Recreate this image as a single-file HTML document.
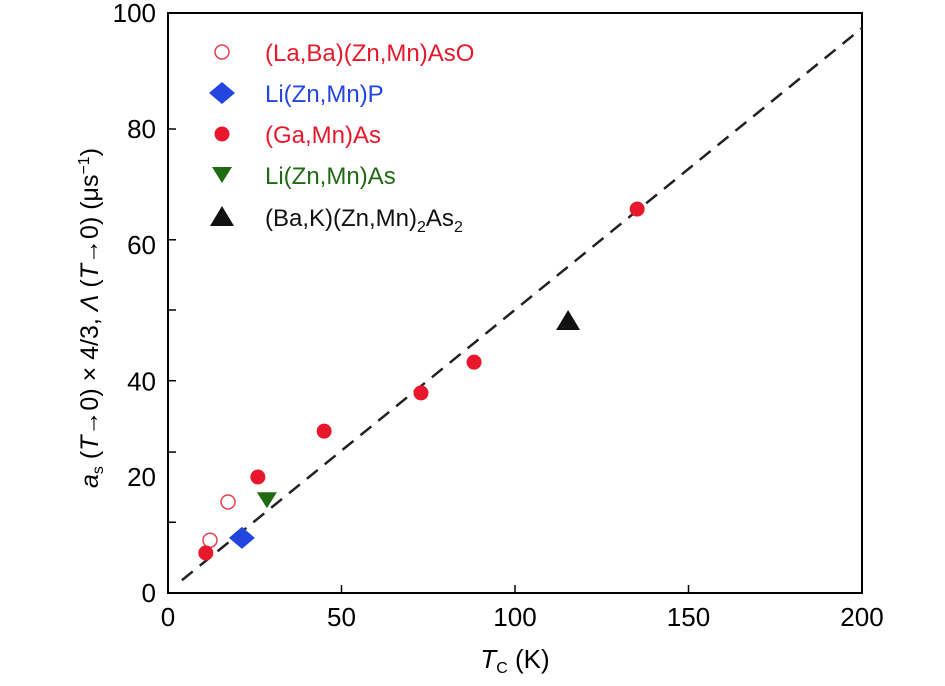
<!DOCTYPE html>
<html><head><meta charset="utf-8"><style>
body{margin:0;background:#fff;}
svg text{font-family:"Liberation Sans",sans-serif;}
</style></head><body>
<svg id="chart" width="945" height="681">
<g id="axes"></g>
<g id="marks"></g>
<g id="legend"></g>
<text x="515" y="668" font-size="26" text-anchor="middle"><tspan font-style="italic">T</tspan><tspan font-size="16" dy="5">C</tspan><tspan dy="-5"> (K)</tspan></text>
<text transform="translate(98,318) rotate(-90)" font-size="25" text-anchor="middle"><tspan font-style="italic">a</tspan><tspan font-size="16" dy="5">s</tspan><tspan dy="-5"> (</tspan><tspan font-style="italic">T</tspan>→0) × 4/3, <tspan font-style="italic">Λ</tspan> (<tspan font-style="italic">T</tspan>→0) (μs<tspan font-size="16" dy="-9">−1</tspan><tspan dy="9">)</tspan></text>
</svg>
<script>
const xTicks=[0,50,100,150,200];
const xTickLabels=["0","50","100","150","200"];
const yTickMarks=[80,60.9,48.8,36.6,24.3,12.2];
const yLabelPos=[100,80,60,36.5,20,0];
const yTickLabels=["100","80","60","40","20","0"];
const laBaX=[12.1,17.3], laBaY=[9.1,15.7];
const liPX=[21.3], liPY=[9.5];
const gaX=[10.9,25.9,45.0,72.9,88.2,135.2], gaY=[6.9,20.0,27.9,34.5,39.8,66.2];
const liAsX=[28.5], liAsY=[16.0];
const baKX=[115.3], baKY=[46.9];
const fitX=[4,200], fitY=[2.2,97.4];

const NS="http://www.w3.org/2000/svg";
const L=168,R=862,T=13,B=593;
const sx=v=>L+(v/200)*(R-L);
const sy=v=>B-(v/100)*(B-T);
function mk(tag,attrs,parent){const e=document.createElementNS(NS,tag);for(const k in attrs)e.setAttribute(k,attrs[k]);parent.appendChild(e);return e;}
const axes=document.getElementById('axes'),marks=document.getElementById('marks'),leg=document.getElementById('legend');
let fr=mk('rect',{x:L,y:T,width:R-L,height:B-T,fill:'none',stroke:'#000','stroke-width':2},axes);


xTicks.forEach((v,i)=>{
 let t=mk('line',{x1:sx(v),x2:sx(v),y1:B,y2:B-8,stroke:'#000','stroke-width':1.5},axes);
 
 
 let l=mk('text',{x:sx(v),y:B+33,'font-size':26,'text-anchor':'middle'},axes);l.textContent=xTickLabels[i];
 
 
});
yTickMarks.forEach(v=>{
 let t=mk('line',{x1:L,x2:L+8,y1:sy(v),y2:sy(v),stroke:'#000','stroke-width':1.5},axes);
 
 
});
yLabelPos.forEach((v,i)=>{
 let l=mk('text',{x:L-12,y:sy(v)+9,'font-size':26,'text-anchor':'end'},axes);l.textContent=yTickLabels[i];
 
 
});
let fl=mk('line',{x1:sx(fitX[0]),y1:sy(fitY[0]),x2:sx(fitX[1]),y2:sy(fitY[1]),stroke:'#222','stroke-width':2.5,'stroke-dasharray':'14,9'},marks);


function shape(kind,cx,cy,parent){
 let e;
 if(kind==='open')e=mk('circle',{cx,cy,r:7,fill:'#fff',stroke:'#e8404f','stroke-width':1.5},parent);
 else if(kind==='circle')e=mk('circle',{cx,cy,r:7.5,fill:'#e8182c'},parent);
 else if(kind==='diamond')e=mk('polygon',{points:`${cx-13},${cy} ${cx},${cy-11} ${cx+13},${cy} ${cx},${cy+11}`,fill:'#2446e0'},parent);
 else if(kind==='down')e=mk('polygon',{points:`${cx-10},${cy-8} ${cx+10},${cy-8} ${cx},${cy+8}`,fill:'#1f6a12'},parent);
 else e=mk('polygon',{points:`${cx-12},${cy+9} ${cx+12},${cy+9} ${cx},${cy-11}`,fill:'#111'},parent);
 return e;
}
const series=[['open',laBaX,laBaY,'la-ba-point'],['diamond',liPX,liPY,'li-zn-mn-p-point'],['circle',gaX,gaY,'ga-mn-as-point'],['down',liAsX,liAsY,'li-zn-mn-as-point'],['up',baKX,baKY,'ba-k-point']];
series.forEach(s=>{s[1].forEach((x,i)=>{let e=shape(s[0],sx(x),sy(s[2][i]),marks);
 
 });});
const legTexts=['(La,Ba)(Zn,Mn)AsO','Li(Zn,Mn)P','(Ga,Mn)As','Li(Zn,Mn)As',''];
const legColors=['#e8182c','#2446e0','#e8182c','#1f6a12','#111'];
const legNames=['legend-la-ba','legend-li-p','legend-ga-mn','legend-li-as','legend-ba-k'];
const legKinds=['open','diamond','circle','down','up'];
const legY=[52,93,134,175,217];
legKinds.forEach((k,i)=>{
 const g=mk('g',{},leg);
 
 
 shape(k,222,legY[i],g);
 const t=mk('text',{x:265,y:legY[i]+9,'font-size':24,fill:legColors[i]},g);
 if(i<4)t.textContent=legTexts[i];
 else t.innerHTML='(Ba,K)(Zn,Mn)<tspan font-size="16" dy="6">2</tspan><tspan dy="-6">As</tspan><tspan font-size="16" dy="6">2</tspan>';
});
</script>
</body></html>
